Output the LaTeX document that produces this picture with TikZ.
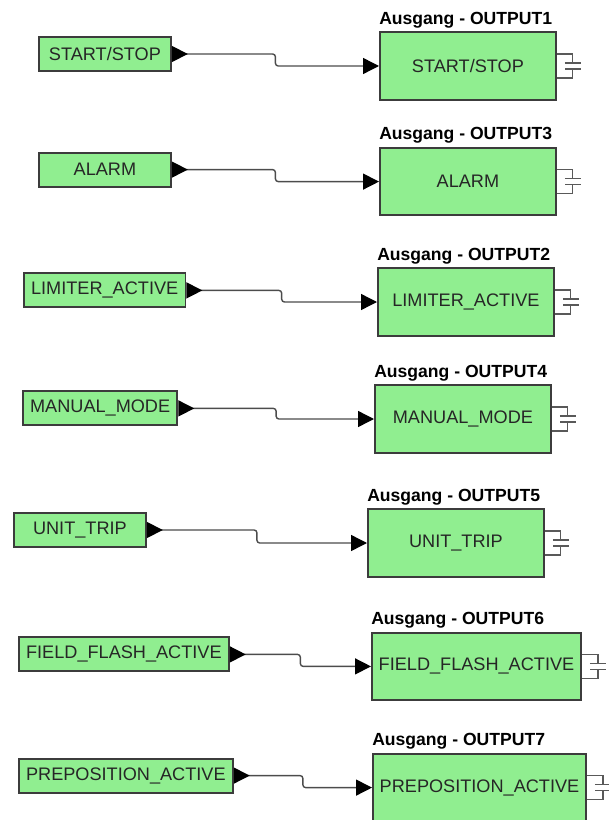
\documentclass[tikz,border=0pt]{standalone}
\usepackage{fontspec}
\setmainfont{Liberation Sans}
\usepackage{tikz}
\usetikzlibrary{arrows.meta, positioning, calc}
\definecolor{boxgreen}{RGB}{144,238,144}
\definecolor{frame}{RGB}{60,60,60}

\begin{document}
\begin{tikzpicture}[
    inbox/.style={draw=frame, line width=1.3pt, fill=boxgreen, anchor=west,
                  minimum width=3.3cm, minimum height=0.85cm, inner xsep=0.18cm,
                  font=\fontsize{12.9}{15}\selectfont, text=black!85},
    outbox/.style={draw=frame, line width=1.3pt, fill=boxgreen, anchor=west,
                   minimum width=4.4cm, minimum height=1.68cm, inner xsep=0.17cm,
                   font=\fontsize{12.9}{15}\selectfont, text=black!85},
    lbl/.style={anchor=south west, inner xsep=0pt, inner ysep=0.08cm,
                font=\bfseries\fontsize{12.5}{14}\selectfont},
    wire/.style={draw=black!70, line width=1pt, rounded corners=0.07cm,
                 arrows={Triangle[reversed, length=0.4cm, width=0.4cm, color=black, fill=black]-Triangle[length=0.4cm, width=0.4cm, color=black, fill=black]}},
    port/.style={draw=black!65, line width=0.8pt}
]
\useasboundingbox (0,0) rectangle (15.2,-20.5);
% inputs (left) and outputs (right)
\node[inbox] (in1) at (0.95,-1.35)   {START/STOP};
\node[inbox] (in2) at (0.95,-4.24)   {ALARM};
\node[inbox] (in3) at (0.575,-7.26)  {LIMITER\_ACTIVE};
\node[inbox] (in4) at (0.55,-10.21)  {MANUAL\_MODE};
\node[inbox] (in5) at (0.325,-13.25) {UNIT\_TRIP};
\node[inbox] (in6) at (0.45,-16.36)  {FIELD\_FLASH\_ACTIVE};
\node[inbox] (in7) at (0.45,-19.39)  {PREPOSITION\_ACTIVE};
\node[outbox, label={[lbl]north west:Ausgang - OUTPUT1}] (out1) at (9.475,-1.65)  {START/STOP};
\node[outbox, label={[lbl]north west:Ausgang - OUTPUT3}] (out2) at (9.475,-4.54)  {ALARM};
\node[outbox, label={[lbl]north west:Ausgang - OUTPUT2}] (out3) at (9.425,-7.55)  {LIMITER\_ACTIVE};
\node[outbox, label={[lbl]north west:Ausgang - OUTPUT4}] (out4) at (9.35,-10.475) {MANUAL\_MODE};
\node[outbox, label={[lbl]north west:Ausgang - OUTPUT5}] (out5) at (9.175,-13.575) {UNIT\_TRIP};
\node[outbox, label={[lbl]north west:Ausgang - OUTPUT6}] (out6) at (9.275,-16.66) {FIELD\_FLASH\_ACTIVE};
\node[outbox, label={[lbl]north west:Ausgang - OUTPUT7}] (out7) at (9.3,-19.69)   {PREPOSITION\_ACTIVE};
% wires
\draw[wire] (in1.east) -| ($(in1.east)!0.5!(out1.west)$) |- (out1.west);
\draw[wire] (in2.east) -| ($(in2.east)!0.5!(out2.west)$) |- (out2.west);
\draw[wire] (in3.east) -| ($(in3.east)!0.5!(out3.west)$) |- (out3.west);
\draw[wire] (in4.east) -| ($(in4.east)!0.5!(out4.west)$) |- (out4.west);
\draw[wire] (in5.east) -| ($(in5.east)!0.5!(out5.west)$) |- (out5.west);
\draw[wire] (in6.east) -| ($(in6.east)!0.5!(out6.west)$) |- (out6.west);
\draw[wire] (in7.east) -| ($(in7.east)!0.5!(out7.west)$) |- (out7.west);
% port symbols
\foreach \i in {1,...,7}
  \draw[port] ([yshift=0.3cm]out\i.east) -- ++(0.4,0) -- ++(0,-0.225)
      ++(-0.2,0) -- ++(0.4,0) ++(0,-0.15) -- ++(-0.4,0)
      ++(0.2,0) -- ++(0,-0.225) -- ++(-0.4,0);
\end{tikzpicture}
\end{document}
